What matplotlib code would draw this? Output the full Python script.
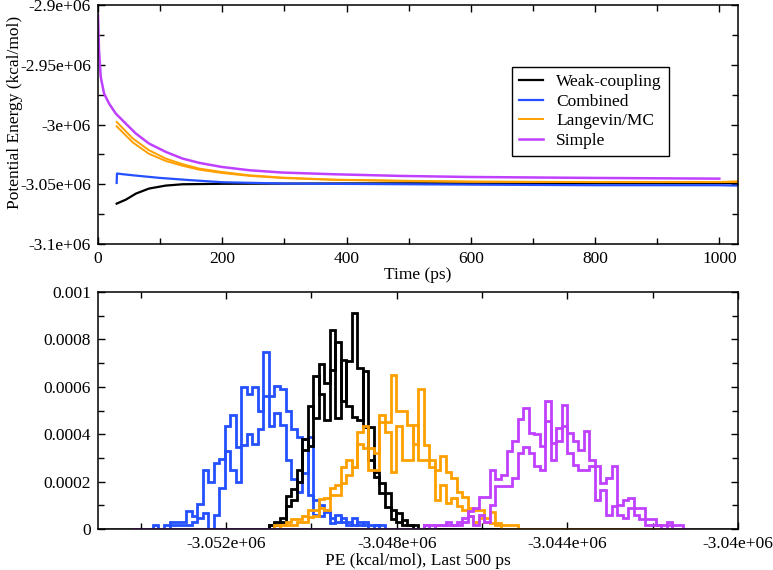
import numpy as np
import matplotlib
matplotlib.use("Agg")
import matplotlib.pyplot as plt
from matplotlib.ticker import MultipleLocator, FixedLocator, FuncFormatter

plt.rcParams['font.family'] = ['Liberation Serif', 'DejaVu Serif']
plt.rcParams['font.size'] = 12.5

# colours
C_WEAK = 'black'
C_COMB = '#2450ff'
C_LANG = '#ffa000'
C_SIMP = '#c040ff'

# ---- top panel: potential energy vs time (kcal/mol) ----
simple_t = [0, 1.6, 4.3, 9.7, 17.7, 28.5, 44.6, 60.8, 82, 109, 136, 163, 199,
            244, 297, 378, 485, 598, 797, 1000]
simple_e = [-2.9084e6, -2.9377e6, -2.9600e6, -2.9740e6, -2.9824e6, -2.9908e6,
            -2.9992e6, -3.0075e6, -3.0159e6, -3.0229e6, -3.0285e6, -3.0321e6,
            -3.0355e6, -3.0383e6, -3.0402e6, -3.0416e6, -3.0430e6, -3.0439e6,
            -3.0447e6, -3.0453e6]

lang_t = [30, 56, 82, 109, 136, 163, 199, 244, 297, 378, 485, 600, 800, 1000, 1028]
lang_e1 = [-2.9978e6, -3.0117e6, -3.0215e6, -3.0285e6, -3.0332e6, -3.0369e6,
           -3.0397e6, -3.0425e6, -3.0444e6, -3.0461e6, -3.0470e6, -3.0478e6,
           -3.0481e6, -3.0481e6, -3.0476e6]
lang_e2 = [-3.0015e6, -3.0150e6, -3.0245e6, -3.0305e6, -3.0345e6, -3.0378e6,
           -3.0405e6, -3.0430e6, -3.0448e6, -3.0463e6, -3.0472e6, -3.0479e6,
           -3.0482e6, -3.0482e6, -3.0480e6]

comb_t = [30, 30.5, 40, 60, 100, 150, 200, 300, 400, 600, 800, 1000, 1028]
comb_e = [-3.0489e6, -3.0410e6, -3.0416e6, -3.0427e6, -3.0447e6, -3.0466e6,
          -3.0483e6, -3.0494e6, -3.0497e6, -3.0503e6, -3.0508e6, -3.0508e6,
          -3.0511e6]

weak_t = [30, 45, 61, 82, 109, 136, 200, 400, 600, 800, 1000, 1028]
weak_e = [-3.0662e6, -3.0628e6, -3.0578e6, -3.0536e6, -3.0511e6, -3.0500e6,
          -3.0496e6, -3.0493e6, -3.0492e6, -3.0491e6, -3.0491e6, -3.0491e6]

# ---- bottom panel: histograms of PE, last 500 ps (density, units of 1e-4) ----
bin_start = -3053713.0   # left edge of bin 0
bin_width = 129.5
n_lo, n_hi = -4, 97      # common bin range used by every histogram

weak_first = 21
weak_h1 = [0.15, 0.3, 0.46, 0.96, 1.24, 2.0, 3.35, 5.2, 4.7, 6.96, 6.16, 6.72, 7.9,
           5.4, 7.1, 9.13, 6.8, 4.3, 4.3, 2.2, 1.96, 0.95, 0.81, 0.3, 0.36, 0.15, 0.15]
weak_h2 = [0.15, 0.15, 0.3, 1.38, 1.7, 2.5, 3.8, 3.5, 6.47, 5.7, 4.6, 8.38, 4.7,
           7.14, 5.2, 4.74, 4.6, 6.67, 2.9, 2.4, 1.5, 1.5, 0.42, 0.67, 0.18, 0.15, 0]

comb_first = 0
comb_h1 = [0.15, 0, 0.15, 0.3, 0.3, 0.3, 0.77, 0.53, 1.07, 2.47, 2.0, 2.78, 2.95,
           4.33, 4.82, 3.46, 6.0, 5.7, 6.0, 5.0, 7.45, 5.6, 6.05, 5.9, 4.96, 4.2,
           3.9, 2.36, 3.9, 1.24, 1.0, 0.7, 0.46, 0.3, 0.46, 0.3, 0.15, 0.3, 0.15,
           0.15, 0.15, 0]
comb_h2 = [0, 0, 0, 0.15, 0.15, 0.15, 0.15, 0.3, 0.46, 0.67, 0, 0.6, 1.73, 3.28,
           2.5, 2.0, 3.56, 4.0, 3.6, 4.2, 5.6, 4.33, 4.9, 4.4, 2.9, 2.1, 1.55, 3.8,
           1.45, 0.6, 0.53, 0.8, 0.25, 0.6, 0.3, 0.15, 0.46, 0.15, 0.3, 0, 0.15, 0.15]

lang_first = 22
lang_h1 = [0.15, 0.15, 0.3, 0.42, 0.42, 0.56, 0.8, 0.8, 1.26, 1.3, 1.73, 1.87, 2.6,
           2.9, 2.6, 4.1, 4.33, 3.4, 3.2, 4.8, 4.5, 6.5, 5.0, 5.0, 4.4, 3.6, 5.9,
           3.56, 2.9, 2.5, 3.1, 2.4, 2.15, 1.55, 1.35, 0.89, 0.82, 0.82, 0.46, 0.7,
           0.25, 0.15, 0.15, 0.15]
lang_h2 = [0, 0.15, 0.15, 0.15, 0.3, 0.3, 0.5, 0.55, 0.9, 0.8, 1.45, 1.45, 1.95,
           2.3, 2.6, 3.6, 3.4, 2.5, 2.5, 4.5, 4.1, 2.4, 4.33, 2.9, 2.9, 4.4, 2.9,
           2.9, 2.6, 1.24, 1.87, 1.1, 1.3, 0.96, 0.8, 0.53, 0.28, 0.46, 0.28, 0.25,
           0.15, 0, 0, 0]

simp_first = 49
simp_h1 = [0.15, 0.15, 0.15, 0.15, 0.28, 0.15, 0.28, 0.46, 0.75, 0.89, 1.35, 1.35,
           2.47, 2.1, 2.3, 3.28, 3.7, 4.64, 5.1, 4.05, 4.0, 3.5, 5.39, 3.63, 4.26,
           5.25, 4.05, 3.7, 3.35, 4.12, 2.93, 2.64, 1.94, 2.15, 2.64, 1.03, 1.24,
           1.3, 0.88, 0.88, 0.42, 0.42, 0.18, 0.15, 0.28, 0.15, 0.15]
simp_h2 = [0.15, 0, 0.15, 0.15, 0.15, 0.15, 0.15, 0.28, 0.53, 0.15, 0.6, 0.3, 1.03,
           1.8, 1.8, 1.8, 2.15, 3.2, 3.44, 3.2, 2.64, 2.5, 4.54, 2.9, 3.7, 4.33,
           3.2, 2.7, 2.5, 2.5, 2.64, 1.24, 1.66, 0.6, 0.96, 0.6, 0.46, 0.88, 0.6,
           0.42, 0.15, 0.18, 0.15, 0, 0.15, 0, 0]


def padded(first, heights):
    full = np.zeros(n_hi - n_lo)
    i0 = first - n_lo
    full[i0:i0 + len(heights)] = np.array(heights) * 1e-4
    return full


edges = bin_start + bin_width * np.arange(n_lo, n_hi + 1)

fig = plt.figure(figsize=(7.73, 5.70), dpi=100)
ax1 = fig.add_axes([0.1268, 0.5719, 0.8279, 0.4193])
ax2 = fig.add_axes([0.1268, 0.0719, 0.8279, 0.4158])

fmt = FuncFormatter(lambda v, p: '%g' % v)

# top panel
ax1.plot(weak_t, weak_e, color=C_WEAK, lw=1.6, label='Weak-coupling')
ax1.plot(comb_t, comb_e, color=C_COMB, lw=1.6, label='Combined')
ax1.plot(lang_t, lang_e1, color=C_LANG, lw=1.4, label='Langevin/MC')
ax1.plot(lang_t, lang_e2, color=C_LANG, lw=1.4)
ax1.plot(simple_t, simple_e, color=C_SIMP, lw=1.8, label='Simple')
ax1.set_xlim(0, 1030)
ax1.set_ylim(-3.1e6, -2.9e6)
ax1.xaxis.set_major_locator(MultipleLocator(200))
ax1.xaxis.set_minor_locator(MultipleLocator(100))
ax1.yaxis.set_major_locator(MultipleLocator(50000))
ax1.yaxis.set_minor_locator(MultipleLocator(25000))
ax1.yaxis.set_major_formatter(fmt)
ax1.set_xlabel('Time (ps)', labelpad=0, fontsize=12.5)
ax1.set_ylabel('Potential Energy (kcal/mol)', fontsize=12.5)
ax1.yaxis.set_label_coords(-0.118, 0.55)
leg = ax1.legend(loc='upper left', bbox_to_anchor=(0.647, 0.741), borderaxespad=0,
                 handlelength=1.4, handletextpad=0.75, labelspacing=0.2,
                 borderpad=0.4, fancybox=False, framealpha=1, edgecolor='black',
                 fontsize=12.5)
leg.get_frame().set_linewidth(1.0)

# bottom panel
ax2.axhline(0, color='#808080', lw=2, zorder=1)
for first, h, col in [(comb_first, comb_h1, C_COMB), (comb_first, comb_h2, C_COMB),
                      (weak_first, weak_h1, C_WEAK), (weak_first, weak_h2, C_WEAK),
                      (lang_first, lang_h1, C_LANG), (lang_first, lang_h2, C_LANG),
                      (simp_first, simp_h1, C_SIMP), (simp_first, simp_h2, C_SIMP)]:
    ax2.stairs(padded(first, h), edges, baseline=None, color=col, lw=2, zorder=2)
ax2.set_xlim(-3.055e6, -3.04e6)
ax2.set_ylim(0, 0.001)
ax2.xaxis.set_major_locator(FixedLocator([-3.052e6, -3.048e6, -3.044e6, -3.04e6]))
ax2.xaxis.set_minor_locator(FixedLocator([-3.054e6, -3.05e6, -3.046e6, -3.042e6]))
ax2.xaxis.set_major_formatter(fmt)
ax2.yaxis.set_major_locator(MultipleLocator(0.0002))
ax2.yaxis.set_minor_locator(MultipleLocator(0.0001))
ax2.yaxis.set_major_formatter(fmt)
ax2.set_xlabel('PE (kcal/mol), Last 500 ps', labelpad=1, fontsize=12.5)

for ax in (ax1, ax2):
    ax.tick_params(which='both', direction='in', top=True, right=True,
                   width=1, labelsize=12.5, pad=5)
    ax.tick_params(which='major', length=5)
    ax.tick_params(which='minor', length=4.5)
    for s in ax.spines.values():
        s.set_linewidth(1.1)

fig.savefig('out.png', dpi=100)
